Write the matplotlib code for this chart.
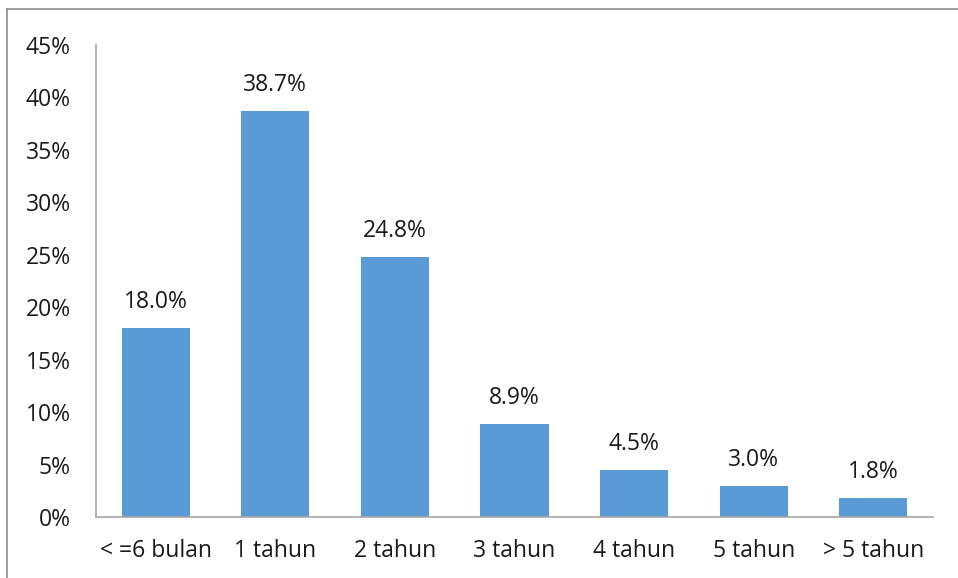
import matplotlib
matplotlib.use('Agg')
import matplotlib.pyplot as plt
from matplotlib.ticker import FuncFormatter
from matplotlib.lines import Line2D

# Data
categories = ['< =6 bulan', '1 tahun', '2 tahun', '3 tahun', '4 tahun', '5 tahun', '> 5 tahun']
percentages = [18.0, 38.7, 24.8, 8.9, 4.5, 3.0, 1.8]
y_ticks = [0, 5, 10, 15, 20, 25, 30, 35, 40, 45]

plt.rcParams['font.family'] = ['Open Sans', 'DejaVu Sans']

fig = plt.figure(figsize=(9.58, 5.78), dpi=100)
ax = fig.add_axes([0.1002, 0.1055, 0.8737, 0.8166])

x = range(len(categories))
bars = ax.bar(x, percentages, width=0.57, color='#5B9BD5')

# Value labels above bars
for bar, val in zip(bars, percentages):
    ax.annotate(f'{val:.1f}%', (bar.get_x() + bar.get_width() / 2, bar.get_height()),
                xytext=(0, 10), textcoords='offset points',
                ha='center', va='bottom', fontsize=16.5, color='#1a1a1a')

ax.set_xlim(-0.5, len(categories) - 0.5)
ax.set_ylim(0, 45)
ax.set_yticks(y_ticks)
ax.yaxis.set_major_formatter(FuncFormatter(lambda v, p: f'{v:.0f}%'))
ax.set_xticks(list(x))
ax.set_xticklabels(categories)

ax.tick_params(axis='both', length=0, labelsize=16.5, labelcolor='#1a1a1a')
ax.tick_params(axis='y', pad=18)
ax.tick_params(axis='x', pad=16)

for side in ['top', 'right']:
    ax.spines[side].set_visible(False)
for side in ['left', 'bottom']:
    ax.spines[side].set_color('#A6A6A6')
    ax.spines[side].set_linewidth(1.2)

# Outer frame (top and left edges visible in the screenshot)
fig.add_artist(Line2D([7 / 958, 1.0], [1 - 9 / 578, 1 - 9 / 578], transform=fig.transFigure,
                      color='#8C8C8C', linewidth=1.2))
fig.add_artist(Line2D([7 / 958, 7 / 958], [0.0, 1 - 9 / 578], transform=fig.transFigure,
                      color='#8C8C8C', linewidth=1.2))

plt.savefig('out.png', dpi=100)
plt.close()
